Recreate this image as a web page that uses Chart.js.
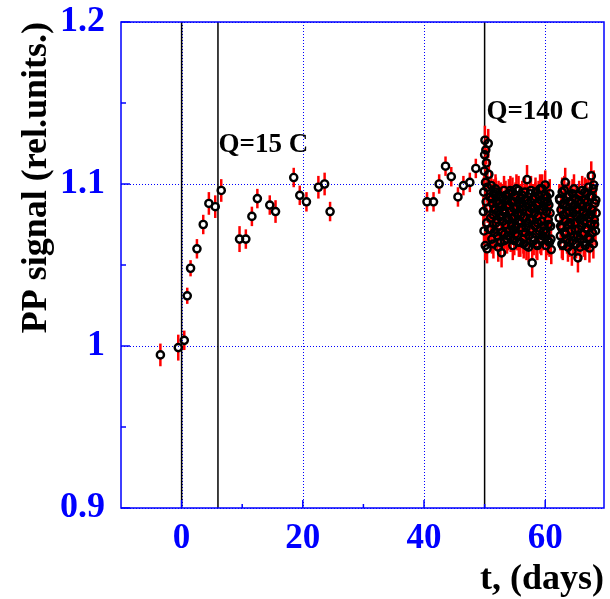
<!DOCTYPE html>
<html>
<head>
<meta charset="utf-8">
<script src="https://cdn.jsdelivr.net/npm/chart.js@4.4.0/dist/chart.umd.min.js"></script>
<style>
  body { margin: 0; background: #fff; }
  canvas { display: block; }
</style>
</head>
<body>
<canvas id="myChart" width="610" height="599"></canvas>
<script>
// sparse measurements before the long run
const tEarly = [-3.5, -0.55, 0.44, 0.93, 1.48, 2.53, 3.57, 4.5, 5.55, 6.54, 9.56, 10.6, 11.6, 12.5, 14.55, 15.5,
  18.5, 19.5, 20.6, 22.57, 23.6, 24.5, 40.5, 41.57, 42.5, 43.55, 44.5, 45.6, 46.5, 47.56, 48.55]
const vEarly = [0.9945, 0.999, 1.0035, 1.031, 1.048, 1.060, 1.075, 1.088, 1.086, 1.096, 1.066, 1.066, 1.080, 1.091, 1.087, 1.083,
  1.104, 1.093, 1.089, 1.098, 1.100, 1.083, 1.089, 1.089, 1.100, 1.111, 1.1045, 1.092, 1.099, 1.101, 1.1096]
const eEarly = [0.007, 0.008, 0.006, 0.005, 0.005, 0.006, 0.006, 0.007, 0.007, 0.007, 0.008, 0.006, 0.006, 0.006, 0.006, 0.007,
  0.006, 0.006, 0.006, 0.007, 0.007, 0.006, 0.006, 0.006, 0.006, 0.006, 0.006, 0.006, 0.006, 0.006, 0.006]

// dense measurements after Q=140 C
const tDense = [49.8, 49.85, 49.9, 49.95, 50.0, 50.05, 50.1, 50.15, 50.2, 50.25, 50.3, 50.35, 50.4, 50.45, 50.5, 50.6,
  50.7, 50.8, 50.9, 51.0, 51.1, 51.2, 51.3, 51.4, 51.5, 51.6, 51.7, 51.8, 51.9, 52.0, 52.1, 52.2, 52.3, 52.4, 52.5,
  52.6, 52.7, 52.8, 52.9, 53.0, 53.1, 53.2, 53.3, 53.4, 53.5, 53.6, 53.7, 53.8, 53.9, 54.0, 54.1, 54.2, 54.3, 54.4,
  54.5, 54.6, 54.7, 54.8, 54.9, 55.0, 55.1, 55.2, 55.3, 55.4, 55.5, 55.6, 55.7, 55.8, 55.9, 56.0, 56.1, 56.2, 56.3,
  56.4, 56.5, 56.6, 56.7, 56.8, 56.9, 57.0, 57.1, 57.2, 57.3, 57.4, 57.5, 57.6, 57.7, 57.85, 57.9, 58.0, 58.1, 58.2,
  58.3, 58.4, 58.5, 58.6, 58.7, 58.8, 58.9, 59.0, 59.1, 59.2, 59.3, 59.4, 59.5, 59.6, 59.7, 59.8, 59.9, 60.0, 60.1,
  60.2, 60.3, 60.4, 60.5, 60.6, 60.7, 60.8, 60.9, 61.0,
  62.3, 62.4, 62.5, 62.6, 62.7, 62.8, 62.9, 63.0, 63.1, 63.2, 63.3, 63.4, 63.5, 63.6, 63.7, 63.8, 63.9, 64.0, 64.1,
  64.2, 64.3, 64.4, 64.5, 64.6, 64.7, 64.8, 64.9, 65.0, 65.1, 65.2, 65.3, 65.4, 65.5, 65.6, 65.7, 65.8, 65.9, 66.0,
  66.1, 66.2, 66.3, 66.4, 66.5, 66.6, 66.7, 66.8, 66.9, 67.0, 67.1, 67.2, 67.3, 67.4, 67.5, 67.6, 67.7, 67.8, 67.9,
  68.0, 68.1, 68.2, 68.3, 68.4,
  51.05, 51.25, 51.45, 51.65, 51.85, 52.05, 52.25, 52.45, 52.65, 52.85, 53.05, 53.25, 53.45, 53.65, 53.85, 54.05,
  54.25, 54.45, 54.65, 54.85, 55.05, 55.25, 55.45, 55.65, 55.85, 56.05, 56.25, 56.45, 56.65, 56.85, 57.05, 57.25,
  57.45, 57.65, 57.95, 58.15, 58.35, 58.55, 58.75, 58.95, 59.15, 59.35, 59.55, 59.75, 59.95, 60.15, 60.35, 60.55,
  60.75, 60.95,
  62.35, 62.55, 62.75, 62.95, 63.15, 63.35, 63.55, 63.75, 63.95, 64.15, 64.35, 64.55, 64.75, 64.95, 65.15, 65.35,
  65.55, 65.75, 65.95, 66.15, 66.35, 66.55, 66.75, 66.95, 67.15, 67.35, 67.55, 67.75, 67.95, 68.15, 68.35]
const vDense = [1.083, 1.095, 1.071, 1.108, 1.118, 1.127, 1.062, 1.101, 1.121, 1.089, 1.113, 1.076, 1.060, 1.098, 1.085, 1.125,
  1.106, 1.072, 1.092, 1.079, 1.099, 1.066, 1.088, 1.081, 1.094, 1.070, 1.085, 1.097, 1.076, 1.089, 1.068, 1.083, 1.093, 1.074, 1.086,
  1.064, 1.080, 1.0575, 1.091, 1.077, 1.084, 1.096, 1.069, 1.082, 1.075, 1.090, 1.066, 1.087, 1.078, 1.094, 1.071, 1.083, 1.067, 1.089,
  1.079, 1.095, 1.072, 1.085, 1.065, 1.080, 1.092, 1.074, 1.086, 1.068, 1.082, 1.096, 1.077, 1.088, 1.064, 1.081, 1.073, 1.093, 1.084,
  1.066, 1.079, 1.090, 1.070, 1.086, 1.062, 1.1027, 1.076, 1.088, 1.068, 1.083, 1.094, 1.072, 1.085, 1.0513, 1.078, 1.091, 1.065, 1.082,
  1.074, 1.095, 1.069, 1.087, 1.062, 1.080, 1.093, 1.071, 1.084, 1.066, 1.090, 1.077, 1.097, 1.068, 1.086, 1.074, 1.089, 1.0994, 1.070,
  1.083, 1.092, 1.065, 1.078, 1.087, 1.064, 1.082, 1.074, 1.0595,
  1.079, 1.090, 1.068, 1.084, 1.073, 1.095, 1.062, 1.081, 1.088, 1.070, 1.101, 1.077, 1.086, 1.066, 1.092, 1.075, 1.083, 1.064, 1.089,
  1.079, 1.071, 1.0585, 1.094, 1.082, 1.068, 1.087, 1.076, 1.091, 1.063, 1.080, 1.085, 1.0544, 1.072, 1.093, 1.078, 1.066, 1.088, 1.074,
  1.096, 1.069, 1.083, 1.077, 1.090, 1.062, 1.081, 1.094, 1.072, 1.086, 1.067, 1.079, 1.0605, 1.092, 1.075, 1.105, 1.084, 1.070, 1.097,
  1.0994, 1.078, 1.088, 1.071, 1.082,
  1.072, 1.091, 1.063, 1.084, 1.095, 1.078, 1.061, 1.088, 1.092, 1.070, 1.083, 1.065, 1.093, 1.079, 1.068, 1.087,
  1.096, 1.074, 1.062, 1.089, 1.069, 1.097, 1.081, 1.064, 1.091, 1.076, 1.086, 1.063, 1.095, 1.073, 1.090, 1.061,
  1.078, 1.096, 1.067, 1.085, 1.092, 1.063, 1.076, 1.088, 1.097, 1.065, 1.084, 1.071, 1.093, 1.062, 1.089, 1.075,
  1.094, 1.066,
  1.091, 1.074, 1.063, 1.087, 1.096, 1.069, 1.082, 1.061, 1.093, 1.076, 1.088, 1.065, 1.097, 1.072, 1.084, 1.068,
  1.090, 1.061, 1.079, 1.086, 1.064, 1.095, 1.073, 1.089, 1.098, 1.066, 1.081, 1.092, 1.063, 1.075, 1.090]
const eDense = 0.009

const xTicks = [0, 20, 40, 60]
const xMinor = [10, 30, 50]
const yTicks = [0.9, 1.0, 1.1, 1.2]
const yMinor = [0.95, 1.05, 1.15]
const markLines = [0, 6, 50]
const notes = [
  {text: 'Q=15 C', t: 6.1, v: 1.12},
  {text: 'Q=140 C', t: 50.3, v: 1.14}
]

const blue = 'rgb(0, 0, 255)'
const serif = '"Liberation Serif", "Times New Roman", serif'

const points = []
tEarly.forEach((t, i) => points.push({x: t, y: vEarly[i], e: eEarly[i]}))
tDense.forEach((t, i) => points.push({x: t, y: vDense[i], e: eDense}))

const line = (ctx, x1, y1, x2, y2) => {
  ctx.beginPath()
  ctx.moveTo(x1, y1)
  ctx.lineTo(x2, y2)
  ctx.stroke()
}

const framePlugin = {
  id: 'frame',
  beforeDatasetsDraw(chart) {
    const {ctx, chartArea: a, scales: {x, y}} = chart
    ctx.save()
    // dotted grid
    ctx.strokeStyle = blue
    ctx.lineWidth = 1
    ctx.setLineDash([1, 2])
    xTicks.forEach(t => {
      const px = Math.round(x.getPixelForValue(t)) + 0.5
      line(ctx, px, a.top, px, a.bottom)
    })
    yTicks.forEach(v => {
      const py = Math.round(y.getPixelForValue(v)) + 0.5
      line(ctx, a.left, py, a.right, py)
    })
    ctx.setLineDash([])
    // vertical markers
    ctx.strokeStyle = 'black'
    ctx.lineWidth = 1.5
    markLines.forEach(t => {
      const px = x.getPixelForValue(t)
      line(ctx, px, a.top, px, a.bottom)
    })
    // error bars, not drawn inside the marker
    ctx.strokeStyle = 'rgb(255, 0, 0)'
    ctx.lineWidth = 2.5
    const gap = 4
    points.forEach(p => {
      const px = x.getPixelForValue(p.x)
      const py = y.getPixelForValue(p.y)
      const hi = y.getPixelForValue(p.y + p.e)
      const lo = y.getPixelForValue(p.y - p.e)
      if (hi < py - gap) line(ctx, px, hi, px, py - gap)
      if (lo > py + gap) line(ctx, px, py + gap, px, lo)
    })
    ctx.restore()
  },
  afterDatasetsDraw(chart) {
    const {ctx, chartArea: a, scales: {x, y}} = chart
    ctx.save()
    ctx.strokeStyle = blue
    ctx.lineWidth = 1.5
    ctx.strokeRect(a.left, a.top, a.right - a.left, a.bottom - a.top)
    xTicks.forEach(t => { const px = x.getPixelForValue(t); line(ctx, px, a.bottom, px, a.bottom - 8) })
    xMinor.forEach(t => { const px = x.getPixelForValue(t); line(ctx, px, a.bottom, px, a.bottom - 4) })
    yTicks.forEach(v => { const py = y.getPixelForValue(v); line(ctx, a.left, py, a.left + 9, py) })
    yMinor.forEach(v => { const py = y.getPixelForValue(v); line(ctx, a.left, py, a.left + 5, py) })

    ctx.fillStyle = 'black'
    ctx.font = 'bold 27px ' + serif
    ctx.textAlign = 'left'
    ctx.textBaseline = 'alphabetic'
    notes.forEach(n => ctx.fillText(n.text, x.getPixelForValue(n.t), y.getPixelForValue(n.v)))

    ctx.font = 'bold 36px ' + serif
    ctx.textAlign = 'right'
    ctx.fillText('t, (days)', a.right, 589)
    ctx.translate(46, 22)
    ctx.rotate(-Math.PI / 2)
    ctx.fillText('PP signal (rel.units.)', 0, 0)
    ctx.restore()
  }
}

const config = {
  type: 'scatter',
  data: {
    datasets: [{
      data: points,
      pointStyle: 'circle',
      pointRadius: 3.6,
      pointBorderWidth: 2.4,
      pointBorderColor: 'black',
      pointBackgroundColor: 'rgba(0, 0, 0, 0)',
      pointHoverRadius: 3.6
    }]
  },
  options: {
    responsive: false,
    animation: false,
    devicePixelRatio: 1,
    layout: {padding: {top: 22, right: 5, left: 0, bottom: 0}},
    plugins: {legend: {display: false}, tooltip: {enabled: false}},
    scales: {
      x: {
        type: 'linear',
        min: -10,
        max: 69.7,
        grid: {display: false},
        border: {display: false},
        afterBuildTicks: (s) => { s.ticks = xTicks.map(v => ({value: v})) },
        afterFit: (s) => { s.height = 91; s.paddingLeft = 0; s.paddingRight = 0 },
        ticks: {
          color: blue,
          font: {family: serif, weight: 'bold', size: 35},
          padding: 2,
          maxRotation: 0,
          autoSkip: false
        }
      },
      y: {
        type: 'linear',
        min: 0.9,
        max: 1.2,
        grid: {display: false},
        border: {display: false},
        afterBuildTicks: (s) => { s.ticks = yTicks.map(v => ({value: v})) },
        afterFit: (s) => { s.width = 121; s.paddingTop = 0; s.paddingBottom = 0 },
        ticks: {
          color: blue,
          font: {family: serif, weight: 'bold', size: 36},
          padding: 8,
          callback: (v) => String(Math.round(v * 10) / 10)
        }
      }
    }
  },
  plugins: [framePlugin]
}

const myChart = new Chart(document.getElementById('myChart'), config)
</script>
</body>
</html>
